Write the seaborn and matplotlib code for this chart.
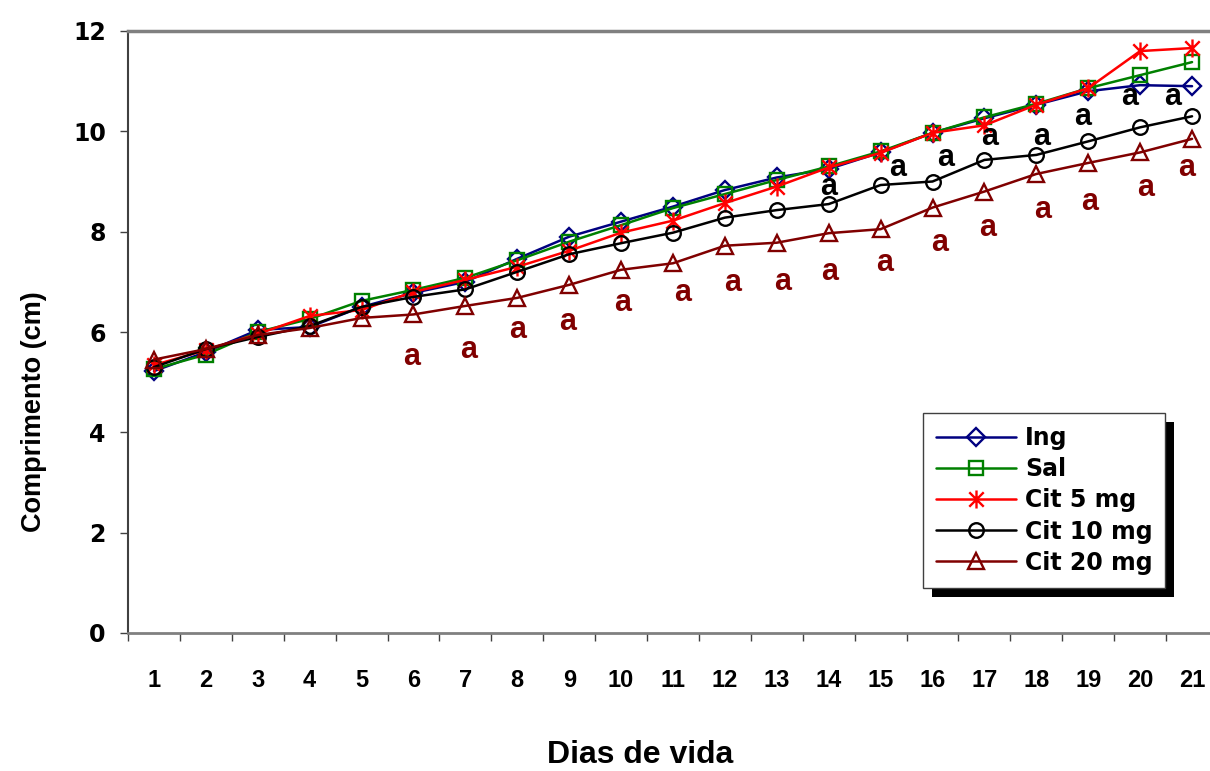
import numpy as np
import pandas as pd
import matplotlib
matplotlib.use("Agg")
import matplotlib.pyplot as plt
import seaborn as sns
from matplotlib.path import Path
from matplotlib.patches import Rectangle

# Daily mean length (cm) per treatment
days = list(range(1, 22))
ing = [5.22, 5.60, 6.04, 6.10, 6.50, 6.78, 7.00, 7.46, 7.90, 8.20, 8.50,
       8.83, 9.08, 9.25, 9.58, 9.97, 10.26, 10.53, 10.80, 10.92, 10.90]
sal = [5.26, 5.55, 6.00, 6.26, 6.62, 6.84, 7.08, 7.43, 7.80, 8.13, 8.47,
       8.75, 9.03, 9.30, 9.60, 9.97, 10.28, 10.55, 10.86, 11.12, 11.38]
cit5 = [5.34, 5.64, 5.96, 6.32, 6.44, 6.80, 7.04, 7.30, 7.62, 7.98, 8.22,
        8.57, 8.90, 9.28, 9.57, 9.97, 10.12, 10.53, 10.86, 11.60, 11.66]
cit10 = [5.30, 5.66, 5.90, 6.12, 6.50, 6.70, 6.85, 7.20, 7.55, 7.77, 7.98,
         8.28, 8.43, 8.55, 8.93, 9.00, 9.43, 9.53, 9.80, 10.08, 10.30]
cit20 = [5.45, 5.66, 5.94, 6.08, 6.28, 6.35, 6.52, 6.68, 6.94, 7.24, 7.37,
         7.72, 7.78, 7.97, 8.05, 8.48, 8.80, 9.15, 9.37, 9.58, 9.85]

labels = ["Ing", "Sal", "Cit 5 mg", "Cit 10 mg", "Cit 20 mg"]
colors = ["#000080", "#008000", "#FF0000", "#000000", "#800000"]

# Significance letters
sig20_x = [5.96, 7.07, 8.0, 8.97, 10.03, 11.18, 12.15, 13.11, 14.02, 15.08,
           16.14, 17.07, 18.13, 19.03, 20.11, 20.9]
sig20_y = [5.50, 5.64, 6.04, 6.20, 6.58, 6.78, 6.98, 7.00, 7.20, 7.37,
           7.77, 8.07, 8.43, 8.59, 8.87, 9.27]
sig10_x = [14.0, 15.33, 16.26, 17.1, 18.1, 18.9, 19.8, 20.63]
sig10_y = [8.89, 9.27, 9.47, 9.89, 9.89, 10.28, 10.68, 10.68]

sns.set_style("white")
plt.rcParams["font.family"] = ["Liberation Sans", "DejaVu Sans"]
plt.rcParams["font.weight"] = "bold"
plt.rcParams["text.color"] = "black"
plt.rcParams["axes.labelcolor"] = "black"
plt.rcParams["xtick.color"] = "black"
plt.rcParams["ytick.color"] = "black"

W, H = 1210, 771
fig = plt.figure(figsize=(W / 100, H / 100), dpi=100)
ax = fig.add_axes([128 / W, 1 - 633 / H, 1090 / W, 602 / H])

# asterisk: vertical bar plus an X
star = Path([(0, -1), (0, 1), (-0.8, -0.8), (0.8, 0.8), (-0.8, 0.8), (0.8, -0.8)],
            [Path.MOVETO, Path.LINETO] * 3)
markers = ["D", "s", star, "o", "^"]
msizes = [9, 10, 13, 10.5, 11.5]
series = [ing, sal, cit5, cit10, cit20]

for lab, vals, col, mk, ms in zip(labels, series, colors, markers, msizes):
    df = pd.DataFrame({"dia": days, "comp": vals})
    sns.lineplot(data=df, x="dia", y="comp", ax=ax, color=col, marker=mk,
                 markersize=ms, markerfacecolor="none", markeredgecolor=col,
                 markeredgewidth=1.7, linewidth=1.8, label=lab, legend=False)

for x, y in zip(sig20_x, sig20_y):
    ax.text(x, y, "a", color="#800000", fontsize=22, fontweight="bold",
            ha="center", va="center")
for x, y in zip(sig10_x, sig10_y):
    ax.text(x, y, "a", color="#000000", fontsize=22, fontweight="bold",
            ha="center", va="center")

# axes
ax.set_xlim(0.5, 21.5)
ax.set_ylim(0, 12)
ax.set_yticks(np.arange(0, 13, 2))
ax.set_xticks(np.arange(0.5, 22, 1))
ax.set_xticklabels([])
ax.set_xticks(days, minor=True)
ax.set_xticklabels([str(d) for d in days], minor=True)
ax.tick_params(axis="x", which="major", direction="out", length=6, width=1,
               color="#404040", bottom=True)
ax.tick_params(axis="x", which="minor", length=0, pad=26, labelsize=17,
               labelcolor="black")
ax.tick_params(axis="y", which="major", direction="out", length=6, width=1,
               color="#404040", left=True, pad=10, labelsize=17,
               labelcolor="black")
for t in ax.get_xticklabels(minor=True):
    t.set_fontweight("bold")
for t in ax.get_yticklabels():
    t.set_fontweight("bold")
    t.set_family("DejaVu Sans")

ax.spines["right"].set_visible(False)
ax.spines["top"].set_color("#808080")
ax.spines["top"].set_linewidth(2.5)
ax.spines["left"].set_color("#404040")
ax.spines["left"].set_linewidth(1.5)
ax.spines["bottom"].set_color("#808080")
ax.spines["bottom"].set_linewidth(2)
ax.grid(False)

ax.set_ylabel("Comprimento (cm)", fontsize=19.5, fontweight="bold",
              color="black")
ax.yaxis.set_label_coords(-0.0745, 0.367)
ax.set_xlabel("Dias de vida", fontsize=23, fontweight="bold", color="black")
ax.xaxis.set_label_coords(0.47, -0.216)
ax.xaxis.label.set_va("baseline")

leg = ax.legend(loc="upper left", bbox_to_anchor=(0.729, 0.365), frameon=True,
                fancybox=False, edgecolor="#404040", framealpha=1,
                prop={"family": "DejaVu Sans", "size": 17, "weight": "bold"},
                handlelength=3.4, handletextpad=0.38, labelspacing=0.3,
                borderpad=0.55, borderaxespad=0)
leg.get_frame().set_linewidth(1)
for t in leg.get_texts():
    t.set_color("black")

# solid drop shadow behind the legend box
fig.canvas.draw()
bb = leg.get_window_extent().transformed(ax.transAxes.inverted())
ax.add_patch(Rectangle((bb.x0 + 9 / 1090, bb.y0 - 9 / 602), bb.width, bb.height,
                       transform=ax.transAxes, facecolor="black",
                       edgecolor="none", zorder=leg.get_zorder() - 0.5,
                       clip_on=False))

fig.savefig("out.png", dpi=100)
